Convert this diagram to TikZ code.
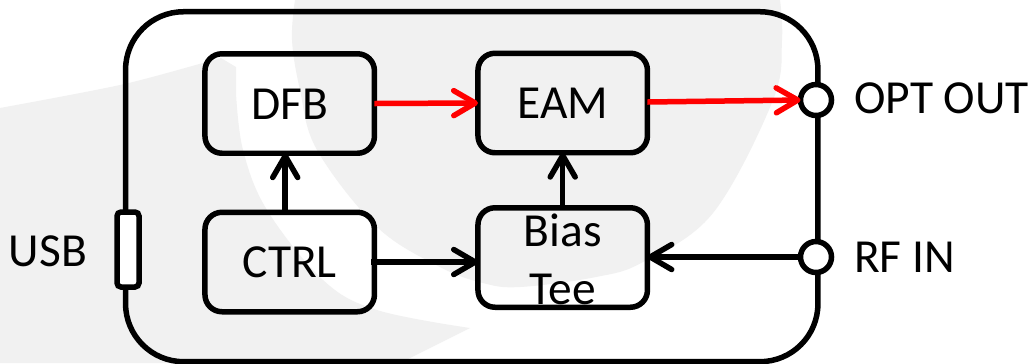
\documentclass[tikz,border=0pt]{standalone}
\usepackage{fontspec}
\setmainfont{Carlito}
\usetikzlibrary{arrows.meta}
\definecolor{wm}{HTML}{F1F1F1}
\tikzset{
  x=0.02cm,y=-0.02cm,
  ln/.style={line width=0.11cm,black},
  block/.style={ln,draw,rounded corners=0.34cm,minimum width=3.39cm,minimum height=1.99cm,inner sep=0pt,outer sep=0pt,font=\fontsize{27}{33}\selectfont,text height=0.62cm,text depth=0pt},
  port/.style={ln,draw,fill=white,circle,minimum size=0.62cm,inner sep=0pt,outer sep=0pt},
  lbl/.style={anchor=base,inner sep=0pt,font=\fontsize{27}{33}\selectfont},
  tip/.style={-{Straight Barb[length=0.43cm,width=0.5cm,round,line width=0.11cm]}},
  arr/.style={ln,tip},
  arrred/.style={ln,tip,red},
}
\begin{document}
\begin{tikzpicture}
\useasboundingbox (0,0) rectangle (1033,363);
\clip (0,0) rectangle (1033,363);
\fill[white] (0,0) rectangle (1033,363);
% watermark
\fill[wm] plot[smooth,tension=0.6] coordinates {(295,0) (292,40) (300,90) (317,150) (377,227) (440,267) (483,283) (520,287) (596,277) (643,262) (713,213) (773,100) (782,40) (780,0)} -- cycle;
\fill[wm] plot[smooth,tension=0.5] coordinates {(0,108) (120,85) (203,63) (221,58)} -- (236,67) -- plot[smooth,tension=0.6] coordinates {(236,93) (243,150) (267,210) (323,280) (377,310) (470,328)} -- (400,363) -- (0,363) -- cycle;
% enclosure
\node[ln,draw,rounded corners=1.16cm,minimum width=13.85cm,minimum height=7cm,inner sep=0pt,outer sep=0pt] (module) at (471.75,186.7) {};
% blocks
\node[block] (dfb) at (289.7,103.5) {DFB};
\node[block] (eam) at (562.7,103) {EAM};
\node[block] (ctrl) at (289.7,262) {CTRL};
\node[block,align=center,text height=,text depth=] (bias) at (562.7,257.5) {\rule{0pt}{0.74cm}Bias\\Tee};
% ports
\node[ln,draw,fill=white,rounded corners=0.08cm,minimum width=0.44cm,minimum height=1.5cm,inner sep=0pt,outer sep=0pt] (usb) at (128,249.5) {};
\node[port] (opt) at (816,100) {};
\node[port] (rf) at (816,257) {};
% labels
\node[lbl] (usbl) at (48,266) {USB};
\node[lbl] (optl) at (941.5,113) {OPT OUT};
\node[lbl] (rfl) at (904.5,272) {RF IN};
% connectors
\draw[arrred] (dfb.east) -- (eam.west);
\draw[arrred] ([yshift=0.02cm]eam.east) -- (opt.west);
\draw[arr] ([xshift=-0.09cm]ctrl.north) -- ([xshift=-0.09cm]dfb.south);
\draw[arr] (bias.north) -- (eam.south);
\draw[arr] ([xshift=-0.06cm]ctrl.east) -- (ctrl.east -| bias.west);
\draw[arr] (rf.west) -- (rf.west -| bias.east);
\end{tikzpicture}
\end{document}
